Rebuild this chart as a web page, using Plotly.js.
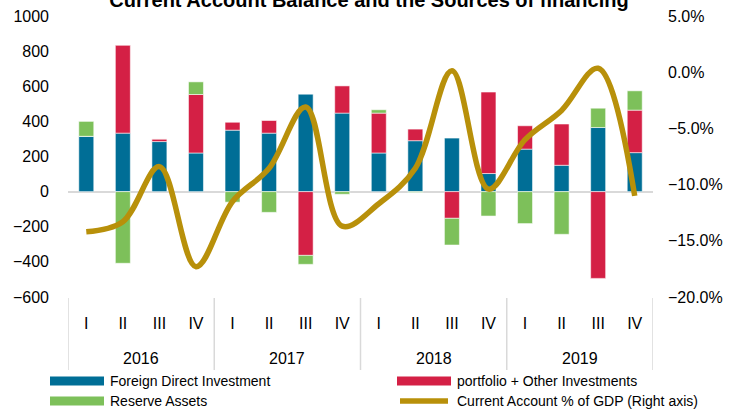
<!DOCTYPE html>
<html>
<head>
<meta charset="utf-8">
<script src="https://cdn.plot.ly/plotly-3.0.1.min.js"></script>
<style>
html,body{margin:0;padding:0;background:#fff;}
#chart{width:735px;height:410px;}
</style>
</head>
<body>
<div id="chart"></div>
<script>
const years = ['2016','2016','2016','2016','2017','2017','2017','2017','2018','2018','2018','2018','2019','2019','2019','2019'];
const quarters = ['I','II','III','IV','I','II','III','IV','I','II','III','IV','I','II','III','IV'];
const yearLabels = ['2016','2017','2018','2019'];
const fdi = [315, 333, 285, 220, 350, 333, 555, 447, 220, 290, 305, 103, 242, 150, 365, 222];
const portfolio = [0, 500, 15, 333, 45, 72, -363, 155, 227, 66, -152, 464, 133, 235, -494, 242];
const reserve = [85, -408, 0, 72, -60, -118, -51, -15, 19, -5, -152, -139, -182, -243, 110, 110];
const currentAccount = [-14.2, -13.3, -8.4, -17.3, -11.5, -8.55, -3.1, -13.7, -11.7, -8.55, 0.13, -10.4, -6.0, -3.4, 0.35, -11.0];

const names = ['Foreign Direct Investment', 'portfolio + Other Investments', 'Reserve Assets', 'Current Account % of GDP (Right axis)'];
const colors = ['#006E96', '#D42045', '#7DC05A', '#B8900A'];

const x = years.map((y, i) => y + ' ' + quarters[i]);
const barLine = {color: 'rgba(255,255,255,0.55)', width: 1};

const traces = [
  {type: 'bar', x: x, y: fdi, name: names[0], marker: {color: colors[0], line: barLine}},
  {type: 'bar', x: x, y: portfolio, name: names[1], marker: {color: colors[1], line: barLine}},
  {type: 'bar', x: x, y: reserve, name: names[2], marker: {color: colors[2], line: barLine}},
  {type: 'scatter', mode: 'lines', x: x, y: currentAccount.map(v => v / 100), name: names[3], yaxis: 'y2',
   line: {color: colors[3], width: 5.5, shape: 'spline', smoothing: 1}}
];

const L = 68, R = 653, T = 16, B = 297;
const px = v => (v - L) / (R - L);
const py = v => (B - v) / (B - T);
const shapes = [];
const annotations = [];

// year group labels and dividers
yearLabels.forEach((yr, k) => {
  annotations.push({xref: 'x', yref: 'paper', x: k * 4 + 1.5, y: py(358), xanchor: 'center', yanchor: 'middle',
    text: yr, showarrow: false, font: {size: 16, color: '#000'}});
});
for (let k = 0; k <= yearLabels.length; k++) {
  shapes.push({type: 'line', xref: 'x', yref: 'paper', x0: k * 4 - 0.5, x1: k * 4 - 0.5, y0: py(298), y1: py(370),
    line: {color: '#d9d9d9', width: 1.5}});
}

// custom legend (swatches + labels)
const legendItems = [
  {x0: 50, x1: 104, y: 381, tx: 108, i: 0},
  {x0: 397, x1: 451, y: 381, tx: 455, i: 1},
  {x0: 50, x1: 104, y: 401, tx: 108, i: 2},
  {x0: 397, x1: 451, y: 401, tx: 455, i: 3}
];
legendItems.forEach(it => {
  if (it.i === 3) {
    shapes.push({type: 'line', xref: 'paper', yref: 'paper', x0: px(it.x0 + 3), x1: px(it.x1 - 3), y0: py(it.y), y1: py(it.y),
      line: {color: colors[3], width: 5.5}});
  } else {
    shapes.push({type: 'rect', xref: 'paper', yref: 'paper', x0: px(it.x0), x1: px(it.x1), y0: py(it.y - 4.5), y1: py(it.y + 4.5),
      fillcolor: colors[it.i], line: {width: 0}});
  }
  annotations.push({xref: 'paper', yref: 'paper', x: px(it.tx), y: py(it.y), xanchor: 'left', yanchor: 'middle',
    text: names[it.i], showarrow: false, font: {size: 14, color: '#000'}});
});

const layout = {
  width: 735, height: 410,
  margin: {l: L, r: 735 - R, t: T, b: 410 - B},
  paper_bgcolor: '#fff', plot_bgcolor: '#fff',
  font: {family: 'Liberation Sans, Arial, sans-serif', color: '#000'},
  title: {text: '<b>Current Account Balance and the Sources of financing</b>', font: {size: 20, color: '#000'},
    x: 0.502, xanchor: 'center', y: 1.0, yanchor: 'middle', yref: 'container'},
  barmode: 'relative',
  bargap: 0.59,
  showlegend: false,
  xaxis: {type: 'category', range: [-0.5, 15.5], tickvals: x, ticktext: quarters,
    showgrid: false, zeroline: false, showline: false,
    ticks: '', ticklabelstandoff: 15,
    tickfont: {size: 16, color: '#000'}},
  yaxis: {range: [-600, 1000], dtick: 200, showgrid: false, zeroline: true, zerolinecolor: '#d9d9d9', zerolinewidth: 2,
    showline: false, ticks: '', ticklabelstandoff: 18, tickfont: {size: 16, color: '#000'}},
  yaxis2: {overlaying: 'y', side: 'right', range: [-0.20, 0.05], dtick: 0.05, tickformat: '.1%', showgrid: false,
    zeroline: false, showline: false, ticks: '', ticklabelstandoff: 14, tickfont: {size: 16, color: '#000'}},
  shapes: shapes,
  annotations: annotations
};

Plotly.newPlot('chart', traces, layout, {displayModeBar: false, staticPlot: true});
</script>
</body>
</html>
